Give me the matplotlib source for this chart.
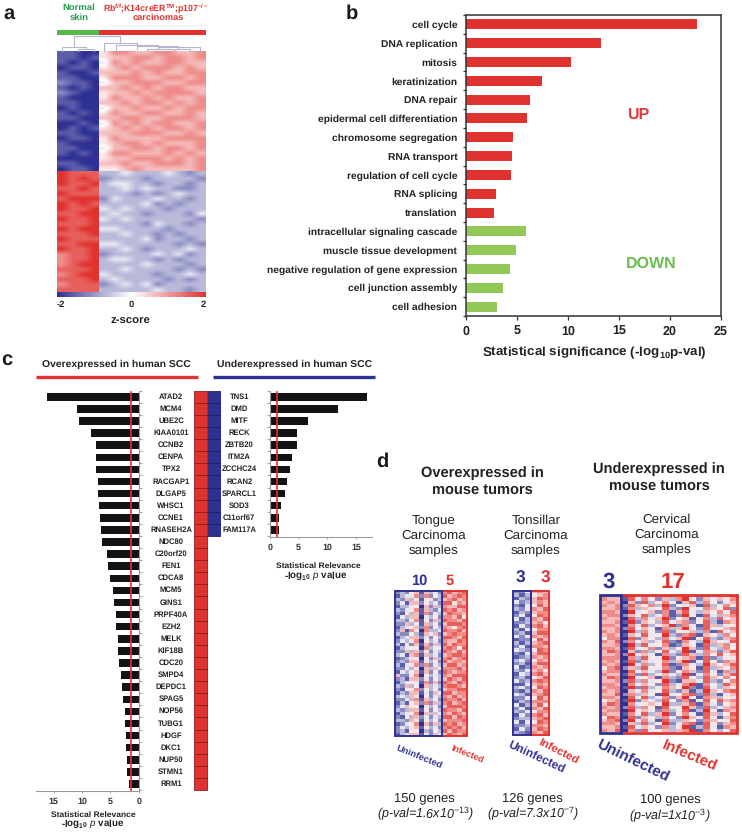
import numpy as np
import matplotlib
matplotlib.use("Agg")
import matplotlib.pyplot as plt
from matplotlib.colors import LinearSegmentedColormap
from matplotlib.patches import Rectangle

plt.rcParams['font.family'] = ['Liberation Sans', 'DejaVu Sans']
plt.rcParams['mathtext.fontset'] = 'custom'
plt.rcParams['mathtext.rm'] = 'Liberation Sans'
plt.rcParams['mathtext.it'] = 'Liberation Sans:italic'
plt.rcParams['mathtext.bf'] = 'Liberation Sans:bold'
plt.rcParams['text.hinting'] = 'no_hinting'

W, H = 742, 832
RED = '#E0322E'
BLUE = '#2E3192'
GREEN = '#92C956'
DARK = '#222222'

# panel b
go_terms = ['cell cycle', 'DNA replication', 'mitosis', 'keratinization', 'DNA repair',
            'epidermal cell differentiation', 'chromosome segregation', 'RNA transport',
            'regulation of cell cycle', 'RNA splicing', 'translation',
            'intracellular signaling cascade', 'muscle tissue development',
            'negative regulation of gene expression', 'cell junction assembly', 'cell adhesion']
go_values = [22.7, 13.2, 10.3, 7.47, 6.3, 5.93, 4.55, 4.45, 4.42, 2.9, 2.68,
             5.83, 4.88, 4.26, 3.57, 2.98]
go_up_count = 11

# panel c
over_genes = ['ATAD2', 'MCM4', 'UBE2C', 'KIAA0101', 'CCNB2', 'CENPA', 'TPX2', 'RACGAP1', 'DLGAP5',
              'WHSC1', 'CCNE1', 'RNASEH2A', 'NDC80', 'C20orf20', 'FEN1', 'CDCA8', 'MCM5', 'GINS1',
              'PRPF40A', 'EZH2', 'MELK', 'KIF18B', 'CDC20', 'SMPD4', 'DEPDC1', 'SPAG5', 'NOP56',
              'TUBG1', 'HDGF', 'DKC1', 'NUP50', 'STMN1', 'RRM1']
over_values = [16.1, 10.8, 10.6, 8.5, 7.6, 7.5, 7.5, 7.2, 7.1, 7.0, 6.8, 6.6, 6.5, 5.6, 5.4, 5.0,
               4.5, 4.35, 4.1, 4.05, 3.7, 3.7, 3.4, 3.2, 3.0, 2.7, 2.4, 2.4, 2.3, 2.2, 2.1, 2.1, 1.8]
over_cutoff = 1.46
under_genes = ['TNS1', 'DMD', 'MITF', 'RECK', 'ZBTB20', 'ITM2A', 'ZCCHC24', 'RCAN2', 'SPARCL1',
               'SOD3', 'C11orf67', 'FAM117A']
under_values = [17.0, 11.8, 6.6, 4.66, 4.66, 3.8, 3.45, 3.0, 2.7, 1.87, 1.6, 1.5]
under_cutoff = 1.28

# heatmaps, one digit per cell: 0 = deepest blue, 9 = deepest red
heat_a = [
    "1100 5776677667", "1101 5667767767", "1010 4767667766", "0110 5676777676",
    "1001 6667676677", "1100 5777667767", "2110 4667776677", "1010 6676767766",
    "2100 5667677776", "1000 5766767667", "1100 6676776767", "0100 4667667677",
    "1010 5766776676", "1100 6677667776", "0010 4767677667", "0101 5676767767",
    "1100 6667776676", "0110 5766667777", "1000 5677676667", "1100 4667767767",
    "1010 5776667676", "0000 5667776767", "1100 6676677767", "0110 5567666667",
    "9888 3343334323", "9898 2333233332", "9889 3443323323", "8898 3343433223",
    "9888 3332323433", "8999 2433343323", "9898 3333423233", "9889 4343332333",
    "8899 3433233324", "9889 4343333332", "8889 3333243323", "9899 4433332333",
    "8889 3343323233", "9888 3333423323", "8899 4433333232", "9889 3343233343",
    "7889 2333343423", "7889 3443323233", "7899 3333433323", "8889 3343333232",
    "7899 4333323343", "8889 3433332323", "7888 2343423333", "8888 3333343323",
]
heat_tongue = [
    "2325616342 78678", "1344727253 86787", "3263515423 67867", "2416625342 88576",
    "1334506263 76688", "3245716324 87867", "2153617243 68776", "1436604352 77685",
    "3324715263 87768", "2263416342 68887", "1345627253 76578", "2617507334 87786",
    "3225316462 67877", "1346624253 88768", "2434705342 76687", "3152616263 86877",
    "1345407354 78758", "2263625243 87686", "3416716342 67887", "1234505263 78678",
    "2326614352 86776", "3144727243 68867", "2253506364 77786", "1435616252 87677",
    "6224705343 76888", "2316624253 68768", "1345417262 87687", "3263506343 78876",
    "2154725352 67788", "1326614264 88677", "3436505243 76867", "2243716352 87786",
    "1315627263 78678", "2464504342 68887", "3236615253 87768", "1345706364 76876",
    "2153624243 88687", "3326515352 67778", "1245706263 87867", "2434615342 78786",
    "2315503253 86877", "1346614264 68768",
]
heat_tonsil = [
    "224 676", "313 567", "132 687", "423 676", "214 586", "324 768", "132 677", "241 587",
    "413 768", "223 675", "142 786", "314 577", "231 688", "424 767", "122 586", "313 678",
    "241 776", "432 587", "214 688", "123 767", "342 576", "231 688", "412 767", "324 675",
    "143 786", "231 568", "423 787", "114 676", "342 587", "213 768", "431 678", "224 586",
    "132 777", "413 685", "241 768", "324 577", "142 786", "233 678", "414 587", "223 776",
    "142 687", "321 768",
]
heat_cervical = [
    "667 09564372586174368", "766 18475263795264657", "676 06283574168375246",
    "767 28657392546183475", "667 17364583295476582", "776 09456271684365748",
    "677 26583471295184367", "766 08374692561473856", "667 19265384672583176",
    "776 07483569274186345", "667 28564173695284567", "767 09375282546371846",
    "676 16484593278165374", "577 08265374691583267", "768 27563482174396548",
    "667 09384571265183674", "776 18457263596284375", "687 06273584391476268",
    "667 29564173286375846", "777 07385492567182354", "676 18264573691485276",
    "767 09473581274396568", "578 26385472165183647", "677 08564392576284173",
    "766 17283564391475268", "687 09456173285386574", "667 28374592166483257",
    "776 07565283479175386", "677 19283476592184365", "767 06474583261396578",
    "668 27365194578283146", "776 08583472695176354", "567 19264385271485867",
    "687 07456593368174256", "767 28375184596283467", "677 09564273481395176",
    "766 17483692574186358", "587 08265374296485167", "678 29574183365276548",
    "776 06383592478185267", "667 18465273591384176", "768 07284563679175348",
]

# dendrogram merges over the columns of panel a: left, right, left base, right base, top
dendro_merges = [
    (1.6, 5.97, 0.3, 0.5, 1.0), (0.47, 2.75, 0.0, 0.13, 0.27), (1.97, 3.53, 0.0, 0.0, 0.13),
    (4.47, 7.5, 0.0, 0.33, 0.49), (5.53, 9.53, 0.0, 0.27, 0.4), (7.5, 11.4, 0.1, 0.1, 0.33),
    (9.53, 13.44, 0.09, 0.0, 0.27), (8.44, 10.9, 0.0, 0.0, 0.09), (11.1, 12.5, 0.0, 0.0, 0.09),
]

cmap = LinearSegmentedColormap.from_list('bwr_fig', [BLUE, '#FFFFFF', RED])


def decode(rows):
    return np.array([[int(c) for c in r.replace(' ', '')] for r in rows])


fig = plt.figure(figsize=(W / 100, H / 100), dpi=100)


def px_axes(x0, y0, x1, y1, **kw):
    return fig.add_axes([x0 / W, 1 - y1 / H, (x1 - x0) / W, (y1 - y0) / H], **kw)


# full figure layer in pixel coordinates, for the labels
top = px_axes(0, 0, W, H, zorder=10)
top.set_xlim(0, W)
top.set_ylim(H, 0)
top.axis('off')


def label(x, y, s, size, color=DARK, weight='bold', **kw):
    top.text(x, y, s, fontsize=size, color=color, fontweight=weight,
             ha=kw.pop('ha', 'center'), va=kw.pop('va', 'center'), **kw)


def heat(data, x0, y0, x1, y1, interp):
    ax = px_axes(x0, y0, x1, y1)
    ax.imshow(data, cmap=cmap, vmin=0, vmax=9, aspect='auto', interpolation=interp)
    ax.axis('off')


for s, x, y in [('a', 9, 14), ('b', 352, 14), ('c', 7, 360), ('d', 382, 462)]:
    label(x, y, s, 14.5, color='#1A1A1A')

# ---- panel a ----
# four blocks on their own so the smoothing stays inside each block
grid = decode(heat_a)
heat(grid[:24, :4], 56.7, 50.7, 99.3, 171, 'bilinear')
heat(grid[:24, 4:], 99.3, 50.7, 206, 171, 'bilinear')
heat(grid[24:, :4], 56.7, 171, 99.3, 291.7, 'bilinear')
heat(grid[24:, 4:], 99.3, 171, 206, 291.7, 'bilinear')

ax = px_axes(56.7, 35.7, 206, 50.7)
ax.set_xlim(0, 14)
ax.set_ylim(0, 1)
ax.axis('off')
for xl, xr, yl, yr, yt in dendro_merges:
    ax.plot([xl, xl, xr, xr], [yl, yt, yt, yr], color='#B4B6D0', lw=0.8, clip_on=False)

top.add_patch(Rectangle((56.7, 30.3), 42.6, 4.4, color='#55B848', lw=0))
top.add_patch(Rectangle((99.3, 30.3), 106.7, 4.4, color=RED, lw=0))
label(78.7, 8, 'Normal', 6.8, color='#1FA04C')
label(78.7, 18, 'skin', 6.8, color='#1FA04C')
label(156, 8, r'Rb$^{\mathbf{f/f}}$;K14creER$^{\mathbf{TM}}$;p107$^{\mathbf{-/-}}$', 6.3, color=RED)
label(158, 18, 'carcinomas', 6.7, color=RED)

cax = px_axes(56.7, 292, 206, 297)
sm = plt.cm.ScalarMappable(norm=plt.Normalize(-2, 2), cmap=cmap)
cb = fig.colorbar(sm, cax=cax, orientation='horizontal')
cb.outline.set_visible(False)
cb.set_ticks([-2, 0, 2])
cb.set_ticklabels(['-2', '0', '2'])
cax.tick_params(length=0, pad=2.5, labelsize=6.8, labelcolor=DARK)
for t in cax.get_xticklabels():
    t.set_fontweight('bold')
cax.get_xticklabels()[0].set_ha('left')
cax.get_xticklabels()[2].set_ha('right')
label(130.5, 321, 'z-score', 8.2)

# ---- panel b ----
ax = px_axes(466.3, 15, 720.7, 316)
ypos = np.arange(len(go_terms))
colors = [RED] * go_up_count + [GREEN] * (len(go_terms) - go_up_count)
ax.barh(ypos, go_values, height=0.53, color=colors)
ax.set_xlim(0, 25)
ax.set_ylim(len(go_terms) - 0.5, -0.5)
ax.set_yticks(ypos)
ax.set_yticklabels(go_terms, fontsize=7.4, fontweight='bold', color=DARK)
ax.set_yticks(np.arange(len(go_terms) + 1) - 0.5, minor=True)
ax.tick_params(axis='y', which='major', length=0, pad=6.5)
ax.tick_params(axis='y', which='minor', length=2.2, width=0.9, color='#333333')
ax.set_xticks(range(0, 26, 5))
ax.tick_params(axis='x', length=3, width=0.9, color='#333333', pad=4, labelsize=9, labelcolor=DARK)
for t in ax.get_xticklabels():
    t.set_fontweight('bold')
for sp in ax.spines.values():
    sp.set_linewidth(1.1)
    sp.set_color('#333333')
label(594.7, 353, r'Statistical significance (-log$_{\mathbf{10}}$p-val)', 9.6)
label(637.7, 114.7, 'UP', 11.5, color='#E03C3C', weight='semibold')
label(651.7, 263.7, 'DOWN', 11.5, color='#6CBE50', weight='semibold')

# ---- panel c ----
GRAY = '#9A9A9A'
label(116.5, 364, 'Overexpressed in human SCC', 7.5)
label(294.7, 364, 'Underexpressed in human SCC', 7.5)
top.plot([36, 198], [377.3, 377.3], color=RED, lw=2.4, solid_capstyle='butt')
top.plot([213, 375.3], [377.3, 377.3], color=BLUE, lw=2.4, solid_capstyle='butt')

ax = px_axes(36, 390.7, 138.8, 790.7)
yo = np.arange(len(over_genes))
ax.barh(yo, over_values, height=0.62, color='#131313')
ax.plot([over_cutoff, over_cutoff], [-0.42, 32.55], color=RED, lw=1.2)
ax.set_xlim(18.1, 0)
ax.set_ylim(32.55, -0.5)
ax.spines[['left', 'top']].set_visible(False)
ax.spines[['right', 'bottom']].set_color(GRAY)
ax.yaxis.tick_right()
ax.set_yticks(np.arange(len(over_genes) + 1) - 0.5)
ax.set_yticklabels([])
ax.tick_params(axis='y', length=2, width=0.6, color=GRAY)
ax.set_xticks([0, 5, 10, 15])
ax.tick_params(axis='x', length=1.5, width=0.6, color=GRAY, pad=3.5, labelsize=6.4, labelcolor='#333333')
for t in ax.get_xticklabels():
    t.set_fontweight('bold')
label(93.5, 815, 'Statistical Relevance', 6.1)
label(93, 824.5, r'-log$_{\mathbf{10}}$ $\mathbf{\mathit{p}}$ value', 7)

ax = px_axes(270, 390.7, 372, 536.7)
yu = np.arange(len(under_genes))
ax.barh(yu, under_values, height=0.62, color='#131313')
ax.plot([under_cutoff, under_cutoff], [-0.42, 11.55], color=RED, lw=1.2)
ax.set_xlim(0, 17.8)
ax.set_ylim(11.56, -0.5)
ax.spines[['right', 'top']].set_visible(False)
ax.spines[['left', 'bottom']].set_color(GRAY)
ax.set_yticks(np.arange(len(under_genes) + 1) - 0.5)
ax.set_yticklabels([])
ax.tick_params(axis='y', length=2, width=0.6, color=GRAY)
ax.set_xticks([0, 5, 10, 15])
ax.tick_params(axis='x', length=1.5, width=0.6, color=GRAY, pad=3.5, labelsize=6.4, labelcolor='#333333')
for t in ax.get_xticklabels():
    t.set_fontweight('bold')
label(318, 565.5, 'Statistical Relevance', 6.1)
label(316, 576, r'-log$_{\mathbf{10}}$ $\mathbf{\mathit{p}}$ value', 7)

# red / blue gene cells share the rows of the two bar charts
ax = px_axes(193.7, 390.7, 221.3, 790.7)
ax.barh(yo, [1] * len(over_genes), left=0, height=1, color=RED, edgecolor='#8A1E1E', lw=0.6)
ax.barh(yu, [1] * len(under_genes), left=1.12, height=1, color=BLUE, edgecolor='#1E2060', lw=0.6)
ax.set_xlim(0, 2.12)
ax.set_ylim(32.55, -0.5)
ax.axis('off')

for i, g in enumerate(over_genes):
    label(171, 396.7 + 12.1 * i, g, 5.5)
for i, g in enumerate(under_genes):
    label(239.3, 396.7 + 12.1 * i, g, 5.5)

# ---- panel d ----
label(482.3, 473, 'Overexpressed in', 10.5)
label(482.3, 490, 'mouse tumors', 10.5)
label(659.3, 469, 'Underexpressed in', 10.5)
label(659.3, 486, 'mouse tumors', 10.5)
for x, yy, name in [(433.3, 521, 'Tongue'), (536, 521, 'Tonsillar'), (666.7, 520, 'Cervical')]:
    label(x, yy, name, 9.6, weight='normal')
    label(x, yy + 15, 'Carcinoma', 9.6, weight='normal')
    label(x, yy + 30, 'samples', 9.6, weight='normal')

label(419.7, 580.7, '10', 10.5, color=BLUE)
label(449.3, 580.7, '5', 10.5, color=RED)
label(520.7, 578.5, '3', 12.5, color=BLUE)
label(545, 578.5, '3', 12.5, color=RED)
label(608.7, 582, '3', 16, color=BLUE)
label(673.3, 582, '17', 16, color=RED)


def sample_heat(rows, n_left, x0, xm, x1, y0, y1, lw):
    # heatmap with a blue box round the left samples and a red box round the others
    data = decode(rows)
    heat(data[:, :n_left], x0, y0, xm, y1, 'nearest')
    heat(data[:, n_left:], xm, y0, x1, y1, 'nearest')
    top.add_patch(Rectangle((xm, y0), x1 - xm, y1 - y0, fill=False, ec=RED, lw=lw))
    top.add_patch(Rectangle((x0, y0), xm - x0, y1 - y0, fill=False, ec=BLUE, lw=lw))


sample_heat(heat_tongue, 10, 394.5, 441.7, 466.7, 590.5, 735.5, 1.4)
sample_heat(heat_tonsil, 3, 513, 530.7, 548.7, 591, 734.5, 1.4)
sample_heat(heat_cervical, 3, 599.5, 620.7, 736.5, 594.5, 732.5, 2.0)

label(419, 756.7, 'Uninfected', 6.8, color=BLUE, rotation=-22)
label(467.7, 754, 'Infected', 6.5, color=RED, rotation=-22)
label(536, 756.7, 'Uninfected', 8.6, color=BLUE, rotation=-25)
label(557.7, 752.7, 'Infected', 8.2, color=RED, rotation=-27)
label(632.7, 761.7, 'Uninfected', 11, color=BLUE, rotation=-26)
label(689.3, 757, 'Infected', 11, color=RED, rotation=-23)

label(424.3, 798, '150 genes', 9.4, weight='normal')
label(425, 813, r'(p-val=1.6x10$^{\mathit{-13}}$)', 9, weight='normal', style='italic')
label(532.7, 798, '126 genes', 9.4, weight='normal')
label(532.7, 813, r'(p-val=7.3x10$^{\mathit{-7}}$)', 9, weight='normal', style='italic')
label(670, 799.3, '100 genes', 9.4, weight='normal')
label(670, 815, r'(p-val=1x10$^{\mathit{-3}}$)', 9, weight='normal', style='italic')

fig.savefig('out.png', dpi=100)
